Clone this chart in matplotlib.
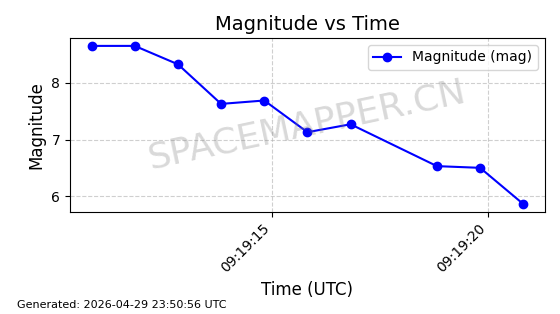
import matplotlib
matplotlib.use("Agg")
import matplotlib.pyplot as plt
import matplotlib.dates as mdates
from datetime import datetime, timedelta

# observation times (seconds after 09:19:00 UTC) and magnitudes
seconds = [10.82, 11.82, 12.82, 13.82, 14.82, 15.82, 16.82, 18.82, 19.82, 20.82]
magnitude = [8.655, 8.655, 8.33, 7.63, 7.69, 7.13, 7.27, 6.53, 6.50, 5.86]

base = datetime(2026, 4, 29, 9, 19, 0)
times = [base + timedelta(seconds=s) for s in seconds]

fig, ax = plt.subplots(figsize=(5.6, 3.14), dpi=100)
fig.subplots_adjust(left=0.125, right=0.973, top=0.879, bottom=0.325)

ax.plot(times, magnitude, marker='o', color='blue', markersize=6, linewidth=1.5,
        label='Magnitude (mag)')
ax.set_title('Magnitude vs Time', fontsize=14)
ax.set_xlabel('Time (UTC)', fontsize=12)
ax.set_ylabel('Magnitude', fontsize=12)
ax.grid(True, linestyle='--', alpha=0.6)
ax.legend(loc='upper right')

ax.xaxis.set_major_locator(mdates.SecondLocator(bysecond=[15, 20]))
ax.xaxis.set_major_formatter(mdates.DateFormatter('%H:%M:%S'))
plt.setp(ax.get_xticklabels(), rotation=45, ha='right')

ax.text(0.5, 0.5, 'SPACEMAPPER.CN', transform=ax.transAxes, fontsize=26,
        color='gray', alpha=0.3, rotation=12, ha='center', va='center')

fig.text(0.03, 0.02, 'Generated: 2026-04-29 23:50:56 UTC', fontsize=8)

fig.savefig('out.png', dpi=100)
